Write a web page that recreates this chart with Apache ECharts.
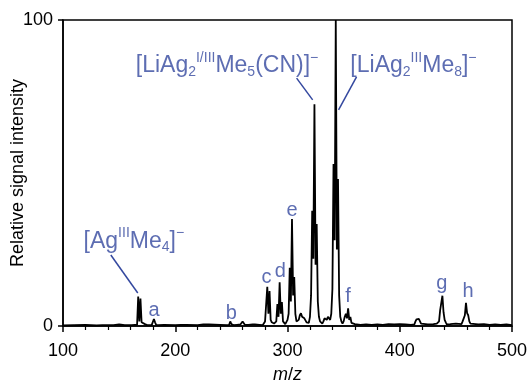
<!DOCTYPE html>
<html>
<head>
<meta charset="utf-8">
<script src="https://cdn.jsdelivr.net/npm/echarts@6/dist/echarts.min.js"></script>
<style>
  html, body { margin: 0; padding: 0; background: #fff; }
  #chart { width: 530px; height: 385px; }
</style>
</head>
<body>
<div id="chart"></div>
<script>
// spectrum profile, m/z and relative intensity
const mzValues = [
  100, 110, 120, 130, 135, 145, 150, 155, 159, 160, 161, 164,
  166, 167, 168, 169, 170, 171, 173, 175, 179, 180, 181, 182, 183, 185,
  190, 200, 205, 210, 220, 225, 230, 240, 246, 248, 249, 250, 251, 252, 255,
  258, 259, 260, 261, 262, 265, 269, 270, 271, 272, 275, 278,
  279, 280, 281, 282, 283, 284, 285, 286, 288, 290,
  291, 292, 293, 294, 295, 296, 297, 298, 299,
  300, 301, 302, 303, 304, 305, 306, 307, 308, 309,
  310, 311, 312, 313, 314, 315, 316, 317, 318, 319,
  320, 321, 322, 323, 324, 325, 326, 327, 328, 329,
  330, 331, 332, 333, 334, 335, 336, 337, 338,
  339, 340, 341, 342, 343, 344, 345, 346, 347, 348, 349,
  350, 351, 352, 353, 354, 355, 356, 357, 358,
  360, 365, 370, 375, 380, 385, 390, 395, 400, 405, 410,
  413, 414, 415, 416, 417, 418, 419, 420, 425, 430, 433,
  434, 435, 436, 437, 438, 439, 440, 441, 442, 445, 450, 455,
  456, 457, 458, 459, 460, 461, 462, 463, 464, 470, 475, 480, 485, 490, 495, 500
];
const intensities = [
  0.2, 0.3, 0.4, 0.2, 0.3, 0.3, 0.5, 0.3, 0.3, 0.9, 0.3, 0.4,
  0.4, 9.6, 1.5, 9.0, 1.2, 0.8, 0.6, 0.3, 0.3, 0.4, 2.3, 1.2, 0.4, 0.3,
  0.4, 0.3, 0.4, 0.4, 0.3, 0.5, 0.5, 0.4, 0.3, 0.4, 1.5, 0.6, 1.2, 0.3, 0.4,
  0.5, 0.6, 1.5, 1.2, 0.4, 0.4, 0.5, 0.8, 0.5, 0.6, 0.4, 0.3,
  0.6, 1.5, 2.0, 12.8, 4.0, 11.4, 2.0, 1.2, 0.8, 1.5,
  7.2, 3.0, 14.3, 4.0, 7.8, 1.5, 1.0, 0.6, 0.8,
  2.0, 4.0, 19.0, 8.0, 35.0, 10.0, 16.0, 4.0, 1.5, 1.0,
  2.0, 3.5, 4.2, 3.0, 3.5, 2.5, 2.0, 1.2, 1.5, 1.0,
  3.0, 10.0, 37.7, 22.0, 72.5, 20.0, 33.3, 8.0, 3.0, 1.5,
  1.0, 0.8, 1.5, 2.5, 3.0, 2.0, 3.0, 2.5, 2.0,
  4.0, 12.0, 52.9, 28.0, 100, 25.0, 48.0, 10.0, 3.0, 1.5, 0.8,
  1.5, 3.0, 4.0, 2.5, 5.8, 2.0, 3.0, 1.0, 0.5,
  0.6, 0.4, 0.5, 0.4, 0.5, 0.4, 0.6, 0.5, 0.6, 0.5, 0.4,
  0.5, 1.5, 2.2, 2.4, 2.3, 2.2, 0.8, 0.4, 0.5, 0.6, 0.8,
  0.6, 1.5, 5.2, 5.5, 9.9, 4.5, 2.0, 1.2, 0.5, 0.6, 0.8, 0.6,
  1.5, 2.0, 3.5, 7.6, 4.2, 3.5, 1.5, 0.8, 0.4, 0.5, 0.6, 0.4, 0.5, 0.4, 0.5, 0.3
];

const xTicks = [100, 200, 300, 400, 500];
const yTicks = [0, 100];

// peak letters and where they sit (m/z, intensity)
const letterNames = ['a', 'b', 'c', 'd', 'e', 'f', 'g', 'h'];
const letterMz = [181.1, 249.9, 281.2, 293.7, 304.0, 353.9, 437.4, 460.8];
const letterAt = [5.2, 4.2, 16.0, 17.7, 37.9, 9.5, 13.9, 11.2];

// ion formula labels (rich text), anchors, leader lines
const ionLabels = [
  '{n|[LiAg}{s|2}{p|I/III}{n|Me}{s|5}{n|(CN)]}{p|−}',
  '{n|[LiAg}{s|2}{p|III}{n|Me}{s|8}{n|]}{p|−}',
  '{n|[Ag}{p|III}{n|Me}{s|4}{n|]}{p|−}'
];
const ionMz = [246.1, 412.2, 163.1];
const ionAt = [85.0, 85.0, 27.6];
const leaderFrom = [[308.1, 81.0], [361.5, 81.4], [142.6, 23.2]];
const leaderTo = [[322.4, 73.9], [345.5, 70.6], [166.6, 10.8]];

const blue = '#34489f';
const font = '"Liberation Sans", Arial, sans-serif';

const profile = mzValues.map((m, i) => [m, intensities[i]]);

const chart = echarts.init(document.getElementById('chart'), null, { renderer: 'canvas' });

const option = {
  backgroundColor: '#fff',
  animation: false,
  textStyle: { fontFamily: font },
  grid: {
    left: 63, right: 18, top: 20, bottom: 59,
    outerBoundsMode: 'none',
    containLabel: false,
    show: true, borderColor: '#000', borderWidth: 1.5
  },
  xAxis: {
    type: 'value',
    min: xTicks[0], max: xTicks[xTicks.length - 1], interval: 100,
    name: '{i|m}/{i|z}',
    nameLocation: 'middle',
    nameGap: 40,
    nameMoveOverlap: false,
    nameTextStyle: {
      fontSize: 18, color: '#000', fontFamily: font,
      rich: { i: { fontSize: 18, fontStyle: 'italic', color: '#000', fontFamily: font } }
    },
    axisLine: { onZero: false, lineStyle: { color: '#000', width: 1.5 } },
    axisTick: { length: 6, lineStyle: { color: '#000', width: 1.5 } },
    minorTick: { show: true, splitNumber: 5, length: 4, lineStyle: { color: '#000', width: 1.2 } },
    axisLabel: { fontSize: 18, color: '#000', margin: 16, fontFamily: font },
    splitLine: { show: false }
  },
  yAxis: {
    type: 'value',
    min: yTicks[0], max: yTicks[1], interval: 100,
    name: 'Relative signal intensity',
    nameLocation: 'middle',
    nameGap: 36,
    nameMoveOverlap: false,
    nameTextStyle: { fontSize: 18, color: '#000', fontFamily: font },
    axisLine: { lineStyle: { color: '#000', width: 1.5 } },
    axisTick: { length: 5, lineStyle: { color: '#000', width: 1.5 } },
    axisLabel: { fontSize: 18, color: '#000', margin: 10, fontFamily: font },
    splitLine: { show: false }
  },
  series: [
    {
      type: 'line',
      data: profile,
      symbol: 'none',
      lineStyle: { color: '#000', width: 1.8 },
      z: 3
    },
    {
      type: 'scatter',
      symbolSize: 0,
      data: letterNames.map((t, i) => ({ value: [letterMz[i], letterAt[i]], name: t })),
      label: {
        show: true, position: 'inside', formatter: p => p.name,
        fontSize: 20, color: blue, fontFamily: font
      },
      z: 4
    },
    {
      type: 'scatter',
      symbolSize: 0,
      data: ionLabels.map((t, i) => ({ value: [ionMz[i], ionAt[i]], name: t })),
      label: {
        show: true, position: 'inside', formatter: p => p.name,
        rich: {
          n: { fontSize: 23, color: blue, lineHeight: 28, fontFamily: font },
          p: { fontSize: 14, color: blue, lineHeight: 28, padding: [0, 0, 16, 0], fontFamily: font },
          s: { fontSize: 14, color: blue, lineHeight: 28, padding: [12, 0, 0, 0], fontFamily: font }
        }
      },
      z: 4
    },
    {
      type: 'lines',
      coordinateSystem: 'cartesian2d',
      data: leaderFrom.map((f, i) => ({ coords: [f, leaderTo[i]] })),
      lineStyle: { color: blue, width: 1.5, opacity: 1 },
      z: 4
    }
  ]
};

chart.setOption(option);
</script>
</body>
</html>
